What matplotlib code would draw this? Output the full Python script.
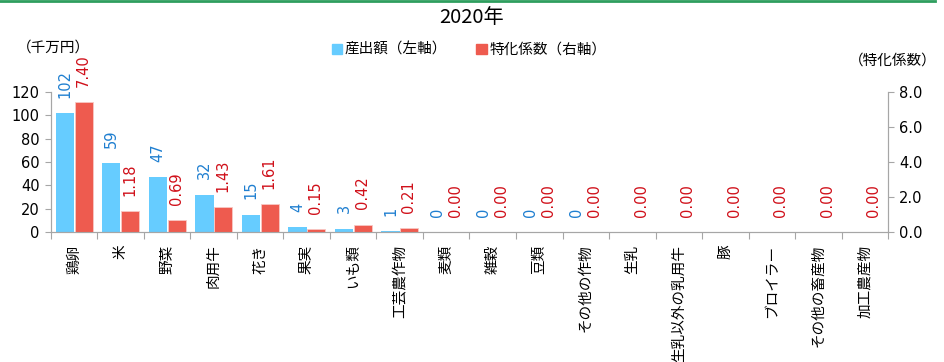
import numpy as np
import matplotlib
matplotlib.use("Agg")
import matplotlib.pyplot as plt
from matplotlib.lines import Line2D
from matplotlib.patches import Patch

plt.rcParams['font.family'] = ['Noto Sans CJK JP', 'DejaVu Sans']

# data
categories = ["鶏卵", "米", "野菜", "肉用牛", "花き", "果実", "いも類", "工芸農作物",
              "麦類", "雑穀", "豆類", "その他の作物", "生乳", "生乳以外の乳用牛",
              "豚", "ブロイラー", "その他の畜産物", "加工農産物"]
output_values = [102, 59, 47, 32, 15, 4, 3, 1, 0, 0, 0, 0,
                 np.nan, np.nan, np.nan, np.nan, np.nan, np.nan]
special_coef = [7.40, 1.18, 0.69, 1.43, 1.61, 0.15, 0.42, 0.21,
                0.00, 0.00, 0.00, 0.00, 0.00, 0.00, 0.00, 0.00, 0.00, 0.00]
left_ticks = [0, 20, 40, 60, 80, 100, 120]
right_ticks = [0, 2, 4, 6, 8]

BLUE = "#66CCFF"
RED = "#EE5B4F"
BLUE_TXT = "#1F7FD0"
RED_TXT = "#D0101A"
AXIS_GRAY = "#A6A6A6"
FS = 10.5
NUM_FONT = "DejaVu Sans"  # wider digits, closer to the original
NUM_FS = 10.5

fig = plt.figure(figsize=(9.44, 3.62), dpi=100)
ax = fig.add_axes([0.054, 0.359, 0.8867, 0.387])
ax2 = ax.twinx()

x = np.arange(len(categories))
w = 0.39
ax.bar(x - w / 2 - 0.005, output_values, width=w, color=BLUE, zorder=2)
ax2.bar(x + w / 2 + 0.01, special_coef, width=w, color=RED,
        edgecolor="#F8C8C4", linewidth=0.6, zorder=2)

# data labels
for xi, v in zip(x, output_values):
    if np.isnan(v):
        continue
    ax.annotate(f"{v:.0f}", (xi - w / 2, v), xytext=(0, 11), textcoords="offset points",
                rotation=90, ha="center", va="bottom", color=BLUE_TXT,
                fontsize=NUM_FS, family=NUM_FONT)
for xi, v in zip(x, special_coef):
    ax2.annotate(f"{v:.2f}", (xi + w / 2, v), xytext=(0, 11), textcoords="offset points",
                 rotation=90, ha="center", va="bottom", color=RED_TXT,
                 fontsize=NUM_FS, family=NUM_FONT)

ax.set_xlim(-0.5, len(categories) - 0.5)
ax.set_ylim(0, 120)
ax2.set_ylim(0, 8)
ax.set_yticks(left_ticks)
ax.set_yticklabels([str(t) for t in left_ticks], fontsize=NUM_FS, family=NUM_FONT)
ax2.set_yticks(right_ticks)
ax2.set_yticklabels([f"{t:.1f}" for t in right_ticks], fontsize=NUM_FS, family=NUM_FONT)

# category boundaries as major ticks, names at centres
ax.set_xticks(np.arange(len(categories) + 1) - 0.5)
ax.set_xticklabels([])
ax.set_xticks(x, minor=True)
ax.set_xticklabels(categories, minor=True, rotation=90, ha="center", va="top", fontsize=FS)
ax.tick_params(axis="x", which="major", length=5, color=AXIS_GRAY, direction="out")
ax.tick_params(axis="x", which="minor", length=0, pad=9)
ax.tick_params(axis="y", length=4, color=AXIS_GRAY, pad=4)
ax2.tick_params(axis="y", length=4, color=AXIS_GRAY, pad=4)

for a in (ax, ax2):
    a.spines["top"].set_visible(False)
    for s in ("left", "right", "bottom"):
        a.spines[s].set_color(AXIS_GRAY)

# texts around the plot
fig.text(0.5, 0.953, "2020年", ha="center", va="center", fontsize=14.5)
fig.text(0.018, 0.868, "（千万円）", ha="left", va="center", fontsize=FS)
fig.text(0.992, 0.832, "（特化係数）", ha="right", va="center", fontsize=FS)

handles = [Patch(color=BLUE, label="産出額（左軸）"),
           Patch(color=RED, label="特化係数（右軸）")]
fig.legend(handles=handles, loc="center", bbox_to_anchor=(0.497, 0.862), ncol=2,
           frameon=False, fontsize=FS, handlelength=0.7, handleheight=0.7,
           handletextpad=0.2, columnspacing=2.0)

fig.add_artist(Line2D([0, 0.99], [0.997, 0.997], transform=fig.transFigure,
                      color="#2E9E5E", linewidth=2))

fig.savefig("out.png", dpi=100)
